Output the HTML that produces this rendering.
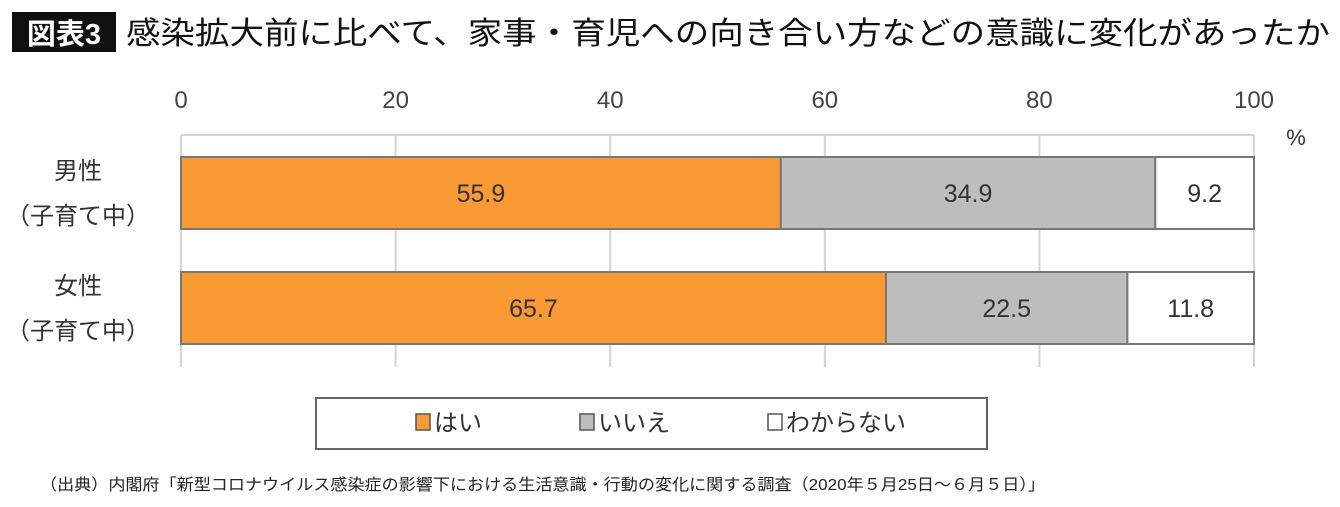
<!DOCTYPE html>
<html><head><meta charset="utf-8">
<style>
body{margin:0;width:1340px;height:502px;background:#fff;overflow:hidden;font-family:"Liberation Sans","Noto Sans CJK JP",sans-serif;}
</style></head>
<body>
<svg width="1340" height="502" xmlns="http://www.w3.org/2000/svg" font-family="Liberation Sans, Noto Sans CJK JP, sans-serif">
<rect x="12" y="12" width="104" height="40" fill="#111"/>
<text x="64" y="44" font-size="29" font-weight="bold" fill="#fff" text-anchor="middle">図表3</text>
<text x="126" y="44" font-size="31" fill="#111" textLength="1204" lengthAdjust="spacingAndGlyphs">感染拡大前に比べて、家事・育児への向き合い方などの意識に変化があったか</text>
<g id="grid"></g>
<g id="bars"></g>
<text x="1296" y="145" font-size="22" fill="#333" text-anchor="middle">%</text>
<rect x="316" y="398" width="671" height="51" fill="#fff" stroke="#666" stroke-width="2"/>
<g id="legend"></g>
<text x="40" y="490" font-size="16" fill="#222" textLength="1005" lengthAdjust="spacingAndGlyphs">（出典）内閣府「新型コロナウイルス感染症の影響下における生活意識・行動の変化に関する調査（2020年５月25日～６月５日）」</text>
</svg>
<script>
const ticks=[0,20,40,60,80,100];
const categories=[["男性","（子育て中）"],["女性","（子育て中）"]];
const seriesNames=["はい","いいえ","わからない"];
const yes=[55.9,65.7];
const no=[34.9,22.5];
const unknown=[9.2,11.8];
const NS="http://www.w3.org/2000/svg";
const x0=181,x1=1254,xs=v=>x0+(x1-x0)*v/100;
const colors=["#F99A35","#BDBDBD","#FFFFFF"];
function mk(tag,attrs,parent,text){const e=document.createElementNS(NS,tag);for(const k in attrs)e.setAttribute(k,attrs[k]);if(text!==undefined)e.textContent=text;parent.appendChild(e);return e;}
const grid=document.getElementById('grid'),bars=document.getElementById('bars'),leg=document.getElementById('legend');
ticks.forEach(t=>{
 const l=mk('line',{x1:xs(t),x2:xs(t),y1:135,y2:367,stroke:'#d4d4d4','stroke-width':2},grid);
 
 
 const tx=mk('text',{x:xs(t),y:108,'font-size':24,fill:'#444','text-anchor':'middle'},grid,String(t));
 
 
});
const plotTop=mk('line',{x1:x0,x2:x1,y1:135,y2:135,stroke:'#d4d4d4','stroke-width':2},grid);


const rowY=[157,272],bh=72;
categories.forEach((c,i)=>{
 const vals=[yes[i],no[i],unknown[i]];
 let acc=0;
 vals.forEach((v,j)=>{
  const r=mk('rect',{x:xs(acc),y:rowY[i],width:xs(acc+v)-xs(acc),height:bh,fill:colors[j],stroke:'#777','stroke-width':2},bars);
  
  
  const t=mk('text',{x:(xs(acc)+xs(acc+v))/2,y:rowY[i]+bh/2+9,'font-size':25,fill:'#333','text-anchor':'middle'},bars,v.toFixed(1));
  
  
  acc+=v;
 });
 const l1=mk('text',{x:78,y:rowY[i]+22,'font-size':24,fill:'#333','text-anchor':'middle'},bars,c[0]);
 
 
 const l2=mk('text',{x:78,y:rowY[i]+67,'font-size':24,fill:'#333','text-anchor':'middle'},bars,c[1]);
 
 
});
const lx=[416,580,768];
seriesNames.forEach((n,j)=>{
 const s=mk('rect',{x:lx[j],y:414,width:14,height:16,fill:colors[j],stroke:'#555','stroke-width':1.5},leg);
 
 
 const t=mk('text',{x:lx[j]+18,y:431,'font-size':24,fill:'#333'},leg,n);
 
 
});
</script>
</body></html>
